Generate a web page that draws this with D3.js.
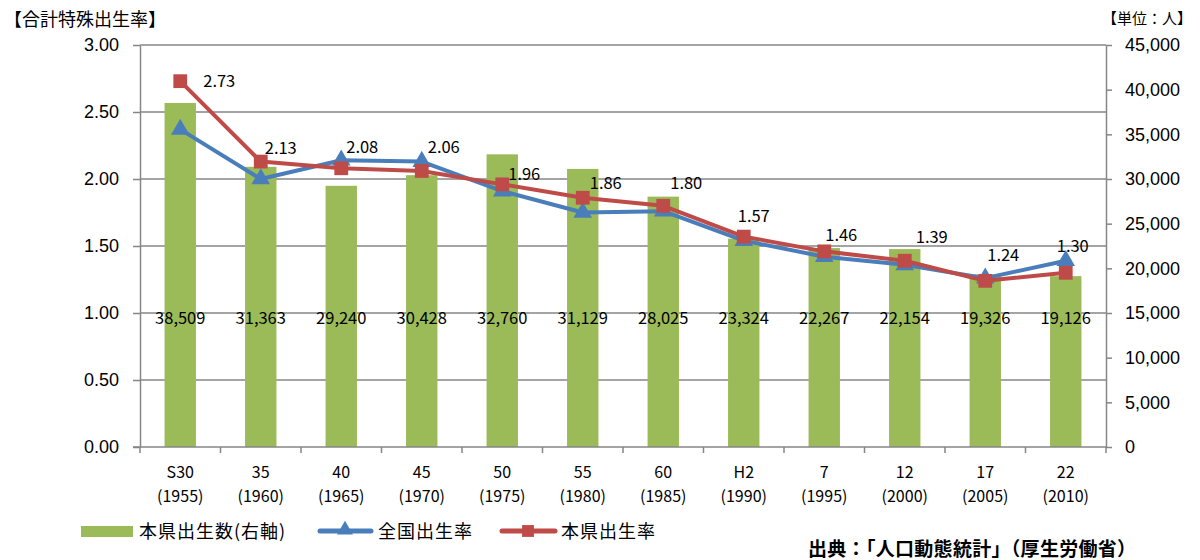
<!DOCTYPE html>
<html lang="ja">
<head>
<meta charset="UTF-8">
<title>合計特殊出生率</title>
<style>
  body { margin: 0; background: #fff; font-family: "Noto Sans CJK JP", "Noto Sans", sans-serif; }
  .grid line { stroke: #868686; stroke-width: 1.5px; }
  .axis path, .axis line { stroke: #868686; stroke-width: 1.5px; }
  .axis text { font-size: 18px; fill: #000; }
</style>
<script src="https://cdnjs.cloudflare.com/ajax/libs/d3/7.8.5/d3.min.js"></script>
</head>
<body>
<svg width="1200" height="560"></svg>
<script>
// data
var eras = ["S30", "35", "40", "45", "50", "55", "60", "H2", "7", "12", "17", "22"];
var years = ["(1955)", "(1960)", "(1965)", "(1970)", "(1975)", "(1980)", "(1985)", "(1990)", "(1995)", "(2000)", "(2005)", "(2010)"];
var births = [38509, 31363, 29240, 30428, 32760, 31129, 28025, 23324, 22267, 22154, 19326, 19126];
var nationalRate = [2.37, 2.00, 2.14, 2.13, 1.91, 1.75, 1.76, 1.54, 1.42, 1.36, 1.26, 1.39];
var prefRate = [2.73, 2.13, 2.08, 2.06, 1.96, 1.86, 1.80, 1.57, 1.46, 1.39, 1.24, 1.30];
var leftTicks = [0, 0.5, 1, 1.5, 2, 2.5, 3];
var rightTicks = [0, 5000, 10000, 15000, 20000, 25000, 30000, 35000, 40000, 45000];

// label nudges for the prefecture rate labels (px, relative to the marker)
var labelNudge = [[39, 0], [20, -14], [21, -21], [22, -24], [22, -10], [23, -15],
                  [23, -23], [10, -21], [17, -16], [27, -24], [18, -26], [7, -27]];

var blue = "#4a7ebb", red = "#be4b48", green = "#9bbb59";

var pL = 140, pR = 1106, pT = 45, pB = 447;

var svg = d3.select("svg");

var x = d3.scaleBand().domain(eras).range([pL, pR]);
var yL = d3.scaleLinear().domain([0, 3]).range([pB, pT]);
var yR = d3.scaleLinear().domain([0, 45000]).range([pB, pT]);
var cx = function(i) { return x(eras[i]) + x.bandwidth() / 2; };

// gridlines
svg.append("g").attr("class", "grid")
  .selectAll("line").data(leftTicks.slice(1)).enter().append("line")
    .attr("x1", pL).attr("x2", pR)
    .attr("y1", function(d) { return yL(d); })
    .attr("y2", function(d) { return yL(d); });

// bars
var barW = x.bandwidth() * 0.39;
svg.append("g").selectAll("rect").data(births).enter().append("rect")
  .attr("x", function(d, i) { return cx(i) - barW / 2; })
  .attr("y", function(d) { return yR(d); })
  .attr("width", barW)
  .attr("height", function(d) { return pB - yR(d); })
  .attr("fill", green);

// left axis
svg.append("g").attr("class", "axis")
  .attr("transform", "translate(" + pL + ",0)")
  .call(d3.axisLeft(yL).tickValues(leftTicks).tickFormat(d3.format(".2f")).tickSize(7).tickSizeOuter(0).tickPadding(14));

// right axis
svg.append("g").attr("class", "axis")
  .attr("transform", "translate(" + pR + ",0)")
  .call(d3.axisRight(yR).tickValues(rightTicks).tickFormat(d3.format(",")).tickSize(6).tickSizeOuter(0).tickPadding(13));

// bottom axis: ticks between categories
var xAxis = svg.append("g").attr("class", "axis");
xAxis.append("line").attr("x1", pL - 7).attr("x2", pR).attr("y1", pB).attr("y2", pB);
xAxis.selectAll("line.tk").data(d3.range(eras.length + 1)).enter().append("line")
  .attr("class", "tk")
  .attr("x1", function(i) { return pL + i * x.step(); })
  .attr("x2", function(i) { return pL + i * x.step(); })
  .attr("y1", pB).attr("y2", pB + 6);
var xl = xAxis.selectAll("text").data(eras).enter().append("text")
  .attr("text-anchor", "middle")
  .style("font-size", "16px");
xl.append("tspan").attr("x", function(d, i) { return cx(i); }).attr("y", 478).text(function(d) { return d; });
xl.append("tspan").attr("x", function(d, i) { return cx(i); }).attr("y", 502).text(function(d, i) { return years[i]; });

// bar value labels
svg.append("g").selectAll("text").data(births).enter().append("text")
  .attr("x", function(d, i) { return cx(i); })
  .attr("y", 324)
  .attr("text-anchor", "middle")
  .style("font-size", "16.5px")
  .text(d3.format(","));

// lines
function drawSeries(vals, color, shape) {
  var line = d3.line()
    .x(function(d, i) { return cx(i); })
    .y(function(d) { return yL(d); });
  svg.append("path").datum(vals)
    .attr("d", line)
    .attr("fill", "none")
    .attr("stroke", color)
    .attr("stroke-width", 4)
    .attr("stroke-linejoin", "round");
  svg.append("g").selectAll("path").data(vals).enter().append("path")
    .attr("transform", function(d, i) { return "translate(" + cx(i) + "," + yL(d) + ")"; })
    .attr("d", d3.symbol().type(shape).size(shape === d3.symbolSquare ? 190 : 150))
    .attr("fill", color);
}
drawSeries(nationalRate, blue, d3.symbolTriangle);
drawSeries(prefRate, red, d3.symbolSquare);

// rate labels
svg.append("g").selectAll("text").data(prefRate).enter().append("text")
  .attr("x", function(d, i) { return cx(i) + labelNudge[i][0]; })
  .attr("y", function(d, i) { return yL(d) + labelNudge[i][1] + 6; })
  .attr("text-anchor", "middle")
  .style("font-size", "16.5px")
  .text(d3.format(".2f"));

// axis titles
svg.append("text").attr("x", 4).attr("y", 26).style("font-size", "18px").text("【合計特殊出生率】");
svg.append("text").attr("x", 1192).attr("y", 24).attr("text-anchor", "end").style("font-size", "15px").text("【単位：人】");

// legend
var lg = svg.append("g").style("font-size", "18px").style("letter-spacing", "1px");
lg.append("rect").attr("x", 81).attr("y", 526).attr("width", 52).attr("height", 11).attr("fill", green);
lg.append("text").attr("x", 139).attr("y", 538).text("本県出生数(右軸)");
lg.append("line").attr("x1", 320).attr("x2", 371).attr("y1", 531).attr("y2", 531)
  .attr("stroke", blue).attr("stroke-width", 5).attr("stroke-linecap", "round");
lg.append("path").attr("transform", "translate(345,530)").attr("d", d3.symbol().type(d3.symbolTriangle).size(110)).attr("fill", blue);
lg.append("text").attr("x", 378).attr("y", 538).text("全国出生率");
lg.append("line").attr("x1", 502).attr("x2", 555).attr("y1", 531).attr("y2", 531)
  .attr("stroke", red).attr("stroke-width", 5).attr("stroke-linecap", "round");
lg.append("path").attr("transform", "translate(528,531)").attr("d", d3.symbol().type(d3.symbolSquare).size(140)).attr("fill", red);
lg.append("text").attr("x", 561).attr("y", 538).text("本県出生率");

// source
svg.append("text").attr("x", 808).attr("y", 556)
  .style("font-size", "19px").style("font-weight", "bold").style("letter-spacing", "0.3px")
  .text("出典：「人口動態統計」（厚生労働省）");
</script>
</body>
</html>
